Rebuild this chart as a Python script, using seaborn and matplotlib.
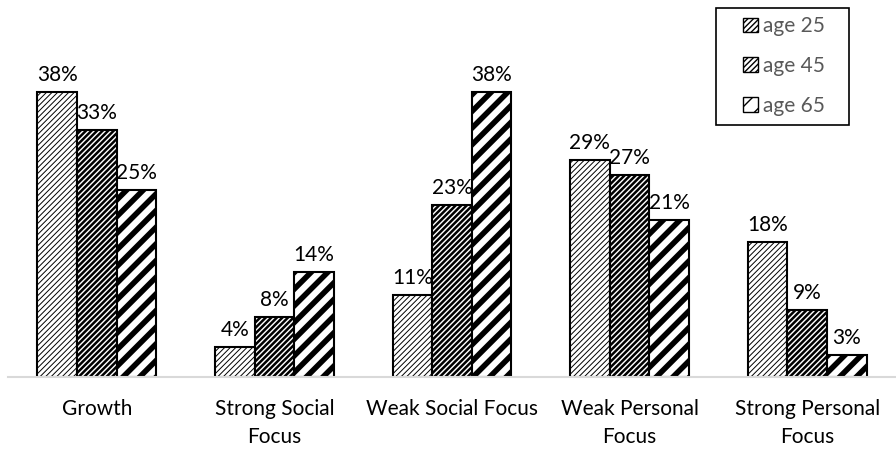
import numpy as np
import pandas as pd
import matplotlib
matplotlib.use("Agg")
import matplotlib.pyplot as plt
import matplotlib.patches as mpatches
import seaborn as sns

# ── Data ──────────────────────────────────────────────────────────────────────
categories = ["Growth", "Strong Social\nFocus", "Weak Social Focus",
              "Weak Personal\nFocus", "Strong Personal\nFocus"]
ages = ["age 25", "age 45", "age 65"]
age25 = [38, 4, 11, 29, 18]
age45 = [33, 8, 23, 27, 9]
age65 = [25, 14, 38, 21, 3]

df = pd.DataFrame({
    "category": categories * 3,
    "age": [ages[0]] * 5 + [ages[1]] * 5 + [ages[2]] * 5,
    "value": age25 + age45 + age65,
})

# ── Style ─────────────────────────────────────────────────────────────────────
sns.set_theme(style="white")
plt.rcParams["font.family"] = ["Lato", "DejaVu Sans"]

HATCH = {"age 25": ("//////", 0.7), "age 45": ("//////", 1.8), "age 65": ("//", 4.0)}
FS = 15

fig = plt.figure(figsize=(8.96, 4.5), dpi=100)
ax = fig.add_axes([8 / 896, 73 / 450, 888 / 896, 377 / 450])

sns.barplot(data=df, x="category", y="value", hue="age", order=categories,
            hue_order=ages, width=0.67, palette=["white"] * 3,
            edgecolor="black", linewidth=1.5, ax=ax, legend=False)

for container, age in zip(ax.containers, ages):
    h, lw = HATCH[age]
    for bar in container:
        bar.set_hatch(h)
        if hasattr(bar, "set_hatch_linewidth"):
            bar.set_hatch_linewidth(lw)
    ax.bar_label(container, labels=[f"{v:.0f}%" for v in container.datavalues],
                 padding=5, fontsize=FS, color="black")

ax.set_xlim(-0.5, 4.5)
ax.set_ylim(0, 50.3)
ax.set_xlabel("")
ax.set_ylabel("")
ax.set_yticks([])
ax.tick_params(axis="x", length=0, labelsize=FS, pad=16, colors="black")
for t in ax.get_xticklabels():
    t.set_linespacing(1.5)
for s in ["top", "right", "left"]:
    ax.spines[s].set_visible(False)
ax.spines["bottom"].set_color("#d9d9d9")
ax.spines["bottom"].set_linewidth(1.5)

# legend: frameless, with its own box drawn around it
handles = []
for age in ages:
    h, lw = HATCH[age]
    p = mpatches.Patch(facecolor="white", edgecolor="black", hatch=h, label=age)
    handles.append(p)
leg = fig.legend(handles=handles, loc="center",
                 bbox_to_anchor=(784 / 896, 1 - 66 / 450), bbox_transform=fig.transFigure,
                 frameon=False, fontsize=FS,
                 handlelength=0.7, handleheight=0.7, handletextpad=0.25,
                 labelspacing=0.95, borderpad=0, borderaxespad=0)
for t in leg.get_texts():
    t.set_color("#595959")

box = mpatches.Rectangle((716 / 896, 1 - 125 / 450), 133 / 896, 117 / 450,
                         transform=fig.transFigure, facecolor="none",
                         edgecolor="black", linewidth=1.2)
fig.add_artist(box)

fig.savefig("out.png", dpi=100)
